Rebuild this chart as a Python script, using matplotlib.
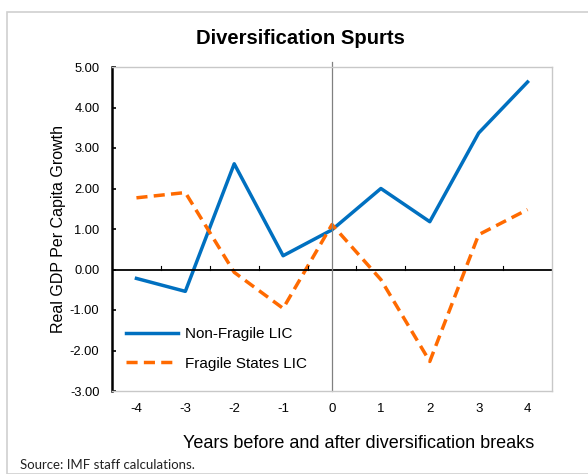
import matplotlib
matplotlib.use('Agg')
import matplotlib.pyplot as plt
from matplotlib.patches import Rectangle

plt.rcParams['font.family'] = ['Liberation Sans', 'DejaVu Sans']

years = [-4, -3, -2, -1, 0, 1, 2, 3, 4]
non_fragile = [-0.22, -0.54, 2.61, 0.34, 0.98, 2.00, 1.18, 3.37, 4.63]
fragile = [1.77, 1.90, -0.07, -0.96, 1.11, -0.25, -2.27, 0.86, 1.48]
yticks = [-3, -2, -1, 0, 1, 2, 3, 4, 5]

fig = plt.figure(figsize=(5.88, 4.74), dpi=100)
# outer frame
fig.patches.append(Rectangle((7/588, 0), 1, 1 - 12/474, transform=fig.transFigure,
                             fill=False, edgecolor='#d0d0d0', lw=1.2))

ax = fig.add_axes([112/588, 1 - 391/474, 440/588, 324/474])
ax.plot(years, non_fragile, color='#0070c0', lw=2.5, label='Non-Fragile LIC')
ax.plot(years, fragile, color='#ff6a00', lw=2.5, ls=(0, (3.2, 1.8)), label='Fragile States LIC')

ax.axhline(0, color='black', lw=1.3)
ax.plot([0, 0], [-3, 5.12], color='#808080', lw=0.9, clip_on=False)

ax.set_xlim(-4.5, 4.5)
ax.set_ylim(-3, 5)
ax.set_yticks(yticks)
ax.set_yticklabels(['%.2f' % v for v in yticks], fontsize=9.3)
ax.set_xticks(years)
ax.set_xticklabels([str(y) for y in years], fontsize=9.5)
ax.tick_params(axis='x', length=0, pad=9)
ax.tick_params(axis='y', direction='in', length=3, width=1.2, pad=9)

for s in ['top', 'right', 'bottom']:
    ax.spines[s].set_color('#c8c8c8')
    ax.spines[s].set_linewidth(1)
ax.spines['left'].set_color('black')
ax.spines['left'].set_linewidth(1.8)

# small category separators on the zero line
for xb in [-3.5, -2.5, -1.5, -0.5, 0.5, 1.5, 2.5, 3.5]:
    ax.plot([xb, xb], [0, 0.08], color='black', lw=0.8)

ax.set_ylabel('Real GDP Per Capita Growth', fontsize=11.5)
ax.yaxis.set_label_coords(-0.104, 0.5)
ax.set_xlabel('Years before and after diversification breaks', fontsize=13)
ax.xaxis.set_label_coords(0.56, -0.135)

fig.text(300/588, 1 - 38/474, 'Diversification Spurts', fontsize=14.6, fontweight='bold',
         ha='center', va='center')

ax.legend(loc='lower left', bbox_to_anchor=(0.0, 0.02), frameon=False, fontsize=11,
          handlelength=3.4, handletextpad=0.5, labelspacing=1.0)

fig.text(20/588, 1 - 465/474, 'Source: IMF staff calculations.', fontsize=9.5,
         family=['Lato', 'DejaVu Sans'], ha='left', va='center', color='#222222')

plt.savefig('out.png', dpi=100)
